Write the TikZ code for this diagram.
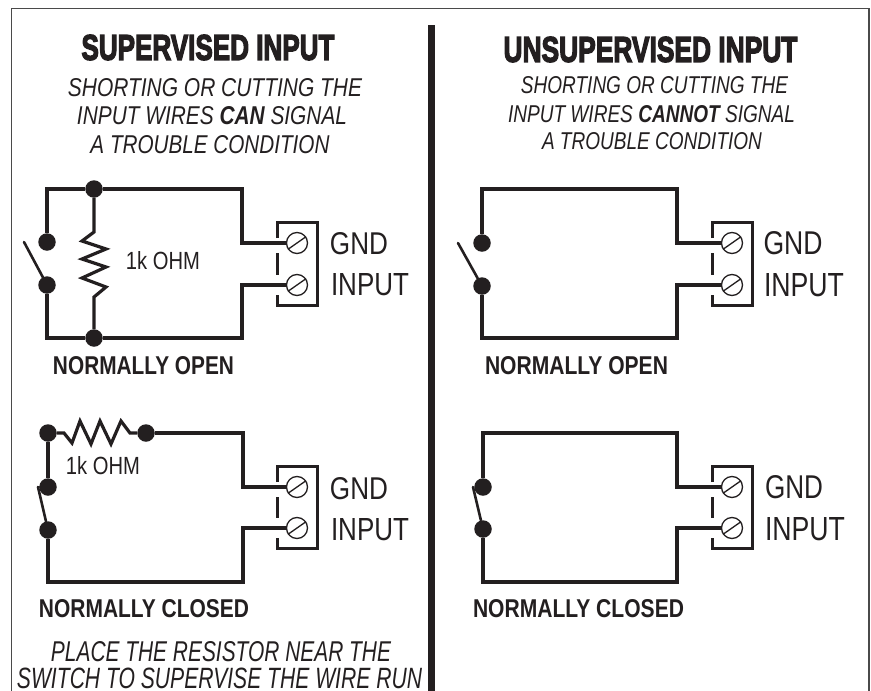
\documentclass[tikz,border=0pt]{standalone}
\usepackage{fontspec}
\usepackage{graphicx}
\setmainfont{Liberation Sans}
\newfontfamily\titlefont[BoldFont={Liberation Sans Bold},BoldFeatures={FakeBold=4}]{Liberation Sans}
\definecolor{ink}{HTML}{231F20}
\definecolor{framegray}{HTML}{4A4A4A}
\newcommand{\fitt}[3]{\resizebox{#1pt}{#2pt}{#3}}
\tikzset{
  lbl/.style={inner sep=0pt,outer sep=0pt,text=ink,anchor=center},
  wire/.style={line width=3.2pt,draw=ink,line join=miter,line cap=butt},
  armline/.style={line width=2.6pt,draw=ink,line cap=round},
  boxline/.style={line width=3pt,draw=ink,line join=miter},
  screwline/.style={line width=1.3pt,draw=ink},
  framing/.style={line width=1.5pt,draw=framegray},
  wdot/.style={circle,fill=ink,draw=none,inner sep=0pt,minimum size=17.5pt},
  screw/.style={circle,draw=ink,line width=1.3pt,fill=white,inner sep=0pt,minimum size=21pt}
}
% terminal block: prefix, centre x, upper y, lower y
\newcommand{\termblock}[4]{%
  \draw[boxline] (#2-20,#3-5) -- (#2-20,#3-21) -- (#2+20,#3-21) -- (#2+20,#4+20) -- (#2-20,#4+20) -- (#2-20,#4+10);
  \draw[boxline] (#2-20,#3+10) -- (#2-20,#4-10);
  \node[screw] (#1t1) at (#2,#3) {};
  \node[screw] (#1t2) at (#2,#4) {};
  \draw[screwline] (#1t1.215) -- (#1t1.35);
  \draw[screwline] (#1t2.215) -- (#1t2.35);
}
\begin{document}
\begin{tikzpicture}[x=1pt,y=-1pt]
\useasboundingbox (0,0) rectangle (871,691);
\coordinate (fbl) at (11.5,691);
\coordinate (ftl) at (11.5,8.5);
\coordinate (ftr) at (869,8.5);
\coordinate (fbr) at (869,691);
\draw[framing] (fbl) -- (ftl) -- (ftr) -- (fbr);
\fill[ink] (428,25) rectangle (434.5,691);

% headings
\node[lbl] (h1) at (208,47.5) {\fitt{253}{25}{\titlefont\bfseries SUPERVISED INPUT}};
\node[lbl] (s1) at (215,87.5) {\fitt{294}{18}{\itshape SHORTING OR CUTTING THE}};
\node[lbl] (s2) at (212,116) {\fitt{270}{18}{\itshape INPUT WIRES \textbf{CAN} SIGNAL}};
\node[lbl] (s3) at (210,145) {\fitt{239}{18}{\itshape A TROUBLE CONDITION}};
\node[lbl] (h2) at (650.5,49.5) {\fitt{294}{25}{\titlefont\bfseries UNSUPERVISED INPUT}};
\node[lbl] (u1) at (654.5,85.5) {\fitt{267}{17}{\itshape SHORTING OR CUTTING THE}};
\node[lbl] (u2) at (651.5,114) {\fitt{287}{17}{\itshape INPUT WIRES \textbf{CANNOT} SIGNAL}};
\node[lbl] (u3) at (652,141) {\fitt{220}{17}{\itshape A TROUBLE CONDITION}};

% circuit A: supervised, normally open
\termblock{a}{297}{243}{285}
\node[wdot] (a1) at (94,189) {};
\node[wdot] (a2) at (94,338) {};
\node[wdot] (a3) at (47,242) {};
\node[wdot] (a4) at (47,285) {};
\coordinate (a5) at (242,189);
\coordinate (a6) at (242,338);
\coordinate (a7) at (24,242);
\draw[wire] (a3) |- (a1) -- (a5) |- (at1);
\draw[wire] (a4) |- (a2) -- (a6) |- (at2);
\draw[armline] (a7) -- (a4);
\draw[wire] (a1) -- (94,232) -- (82,241) -- (106,249) -- (82,259) -- (106,267) -- (82,278) -- (106,287) -- (94,297) -- (a2);
\node[lbl] at (163,261) {\fitt{74}{18}{1k OHM}};
\node[lbl] at (359,244) {\fitt{58}{22}{GND}};
\node[lbl] at (370,285) {\fitt{78}{22}{INPUT}};
\node[lbl] at (143.5,366) {\fitt{181}{18}{\bfseries NORMALLY OPEN}};

% circuit B: supervised, normally closed
\termblock{b}{297}{487}{528}
\node[wdot] (b1) at (48,433) {};
\node[wdot] (b2) at (146,433) {};
\node[wdot] (b3) at (48,487) {};
\node[wdot] (b4) at (48,530) {};
\coordinate (b5) at (243,433);
\coordinate (b6) at (243,582);
\coordinate (b7) at (38,487);
\draw[wire] (b1) -- (b3);
\draw[wire] (b2) -- (b5) |- (bt1);
\draw[wire] (b4) |- (b6) |- (bt2);
\draw[armline] (b7) -- (b3);
\draw[armline] (b7) -- (b4);
\draw[wire] (b1) -- (64,433) -- (72,443) -- (80,421) -- (91,444) -- (100,421) -- (111,444) -- (121,421) -- (130,433) -- (b2);
\node[lbl] at (103,465.5) {\fitt{74}{18}{1k OHM}};
\node[lbl] at (359,488.5) {\fitt{58}{22}{GND}};
\node[lbl] at (370,529.5) {\fitt{78}{22}{INPUT}};
\node[lbl] at (144,609) {\fitt{210}{18}{\bfseries NORMALLY CLOSED}};
\node[lbl] at (221,652) {\fitt{340}{20}{\itshape PLACE THE RESISTOR NEAR THE}};
\node[lbl] at (219.5,678) {\fitt{405}{20.5}{\itshape SWITCH TO SUPERVISE THE WIRE RUN}};

% circuit C: unsupervised, normally open
\termblock{c}{732}{243}{285}
\node[wdot] (c3) at (482,243) {};
\node[wdot] (c4) at (482,286) {};
\coordinate (c1) at (482,189);
\coordinate (c2) at (482,338);
\coordinate (c5) at (677,189);
\coordinate (c6) at (677,338);
\coordinate (c7) at (458,243);
\draw[wire] (c3) -- (c1) -- (c5) |- (ct1);
\draw[wire] (c4) -- (c2) -- (c6) |- (ct2);
\draw[armline] (c7) -- (c4);
\node[lbl] at (793,243.5) {\fitt{59}{23}{GND}};
\node[lbl] at (804,285) {\fitt{80}{23}{INPUT}};
\node[lbl] at (576.5,366) {\fitt{183}{18}{\bfseries NORMALLY OPEN}};

% circuit D: unsupervised, normally closed
\termblock{d}{732}{487}{528}
\node[wdot] (d3) at (483,487) {};
\node[wdot] (d4) at (483,529) {};
\coordinate (d1) at (483,433);
\coordinate (d2) at (483,582);
\coordinate (d5) at (677,433);
\coordinate (d6) at (677,582);
\coordinate (d7) at (473,487);
\draw[wire] (d3) -- (d1) -- (d5) |- (dt1);
\draw[wire] (d4) -- (d2) -- (d6) |- (dt2);
\draw[armline] (d7) -- (d4);
\node[lbl] at (794,487) {\fitt{58}{23}{GND}};
\node[lbl] at (805,529) {\fitt{80}{23}{INPUT}};
\node[lbl] at (578.5,609) {\fitt{211}{18}{\bfseries NORMALLY CLOSED}};
\end{tikzpicture}
\end{document}
